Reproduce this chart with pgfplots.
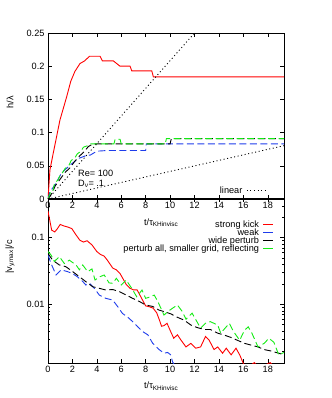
\documentclass[border=0pt]{standalone}
\usepackage{fontspec}
\setmainfont{Liberation Sans}
\usepackage{pgfplots}
\pgfplotsset{compat=1.18}
\definecolor{kred}{RGB}{255,0,0}
\definecolor{kblue}{RGB}{30,60,235}
\definecolor{kgreen}{RGB}{20,235,20}

\newcommand{\kfont}{\fontsize{9.2}{11}\selectfont}
\pgfplotsset{
  kh/.style={
    scale only axis, width=236bp,
    xmin=0, xmax=19.33,
    xtick={0,2,...,18},
    tick align=inside,
    major tick length=4bp, minor tick length=2bp,
    font=\kfont,
    /pgf/number format/assume math mode=true,
    axis line style={line width=0.7bp},
    every tick/.style={black, line width=0.5bp},
    xlabel={t/τ\textsubscript{KHinvisc}},
    legend cell align=right, legend plot pos=right,
  },
  dsh/.style={line width=0.9bp, dash pattern=on 7bp off 3.5bp},
}

\begin{document}
\begin{tikzpicture}
\path[use as bounding box] (0,0) rectangle (332bp,398bp);

% top panel: h/lambda
\begin{axis}[kh,
  at={(48bp,199bp)}, anchor=south west, height=166bp,
  ymin=0, ymax=0.25,
  ytick={0,0.05,0.1,0.15,0.2,0.25},
  yticklabels={0,0.05,0.1,0.15,0.2,0.25},
  xlabel style={at={(axis description cs:0.48,-0.142)}, anchor=center},
  ylabel={h/λ},
  ylabel style={at={(axis description cs:-0.161,0.584)}, anchor=center},
  legend style={at={(rel axis cs:0.93,0.05)}, anchor=east, draw=none, fill=none,
    inner sep=0pt, column sep=3bp, font=\kfont, nodes={inner sep=1bp}},
  legend image code/.code={\draw[#1] (0bp,0bp) -- (20bp,0bp);},
]
\addplot[kred, line width=0.9bp, forget plot] coordinates {
  (0,0) (0.16,0.044) (0.43,0.069) (0.98,0.119) (1.53,0.154) (1.86,0.177)
  (2.2,0.192) (2.62,0.204) (3.0,0.208) (3.4,0.215) (4.26,0.215) (4.45,0.208)
  (5.35,0.208) (5.9,0.200) (6.72,0.200) (6.86,0.193) (8.5,0.193) (8.63,0.184)
  (19.33,0.184)
};
\addplot[kblue, dsh, forget plot] coordinates {
  (0,0) (0.16,0.011) (0.57,0.021) (1.1,0.039) (1.8,0.051) (2.5,0.061)
  (3.2,0.066) (3.45,0.066) (4.0,0.072) (4.8,0.073) (8.0,0.073) (8.05,0.083)
  (19.33,0.083)
};
\addplot[black, dsh, forget plot] coordinates {
  (0,0) (0.3,0.008) (0.6,0.02) (1.0,0.03) (1.4,0.04) (1.8,0.047) (2.2,0.057)
  (2.6,0.065) (3.0,0.072) (3.3,0.079) (3.7,0.083) (10.0,0.083) (10.1,0.091)
  (19.33,0.091)
};
\addplot[kgreen, dsh, forget plot] coordinates {
  (0,0) (0.25,0.012) (0.4,0.012) (0.55,0.025) (0.8,0.028) (1.0,0.036)
  (1.2,0.04) (1.4,0.046) (1.7,0.05) (1.9,0.058) (2.2,0.062) (2.4,0.068)
  (2.7,0.072) (2.9,0.078) (3.2,0.08) (3.5,0.083) (5.4,0.083) (5.5,0.090)
  (5.9,0.090) (6.0,0.083) (9.6,0.083) (9.7,0.091) (19.33,0.091)
};
\addplot[black, line width=0.9bp, dash pattern=on 1bp off 2.6bp] coordinates {
  (0,0) (12,0.25)
};
\addlegendentry{linear}
\addplot[black, line width=0.9bp, dash pattern=on 1bp off 2.6bp, forget plot] coordinates {
  (0,0) (19.33,0.0803)
};
\node[anchor=west, inner sep=0pt] at (axis cs:2.46,0.039) {Re= 100};
\node[anchor=west, inner sep=0pt] at (axis cs:2.46,0.0226) {D\textsubscript{ν}= .1};
\end{axis}

% bottom panel: |v_y,max|/c
\begin{axis}[kh,
  at={(48bp,35bp)}, anchor=south west, height=165bp,
  ymode=log, ymin=0.00132, ymax=0.394,
  log ticks with fixed point,
  xlabel style={at={(axis description cs:0.48,-0.142)}, anchor=center},
  ylabel={|v\textsubscript{y,max}|/c},
  ylabel style={at={(axis description cs:-0.161,0.642)}, anchor=center},
  legend style={at={(rel axis cs:0.958,0.87)}, anchor=north east, draw=none, fill=none,
    inner sep=0pt, row sep=-2.2bp, column sep=3bp, font=\kfont, nodes={inner sep=1bp}},
  % two overlapping pieces, each starting with a dash, give a solid short sample
  legend image code/.code={\draw[#1] (0bp,0bp) -- (6.5bp,0bp);
    \draw[#1] (3.5bp,0bp) -- (10bp,0bp);},
]
\addplot[kred, line width=0.9bp] coordinates {
  (0,0.25) (0.3,0.13) (0.55,0.122) (0.75,0.135) (1.0,0.158) (1.3,0.15)
  (1.6,0.145) (1.95,0.137) (2.3,0.11) (2.6,0.092) (2.9,0.086) (3.2,0.09)
  (3.6,0.078) (4.0,0.062) (4.3,0.056) (4.6,0.053) (4.9,0.045) (5.3,0.035)
  (5.6,0.033) (5.9,0.029) (6.1,0.025) (6.4,0.02) (6.7,0.0175) (7.0,0.0165)
  (7.3,0.0165) (7.6,0.013) (8.0,0.0095) (8.3,0.0092) (8.6,0.0088) (8.9,0.0075)
  (9.1,0.006) (9.3,0.0047) (9.5,0.0048) (9.75,0.0052) (10.05,0.0039)
  (10.3,0.0031) (10.6,0.0035) (10.9,0.0029) (11.3,0.0023) (11.7,0.0026)
  (12.1,0.0022) (12.5,0.0023) (12.9,0.0033) (13.2,0.0029) (13.6,0.0021)
  (13.9,0.0023) (14.3,0.00185) (14.6,0.0022) (15.0,0.00175) (15.4,0.0022)
  (15.7,0.00175) (16.0,0.0013) (16.3,0.0011) (16.9,0.00134) (17.3,0.0011)
  (18.2,0.00134) (18.6,0.0011) (19.33,0.001)
};
\addlegendentry{strong kick}
\addplot[kblue, dsh] coordinates {
  (0,0.055) (0.25,0.041) (0.66,0.0276) (1.07,0.033) (1.6,0.031) (2.0,0.029)
  (2.4,0.026) (2.85,0.022) (3.1,0.0195) (3.4,0.0207) (3.8,0.0174) (4.2,0.0138)
  (4.75,0.0123) (5.3,0.0116) (5.7,0.0093) (6.1,0.0073) (6.5,0.0065)
  (6.94,0.0055) (7.35,0.0046) (7.76,0.0039) (8.17,0.0035) (8.58,0.0026)
  (9.1,0.0021) (9.5,0.00185) (9.8,0.0019) (10.05,0.00175) (10.2,0.00138)
  (10.4,0.0012)
};
\addlegendentry{weak}
\addplot[black, dsh] coordinates {
  (0,0.058) (0.38,0.046) (0.93,0.039) (1.47,0.0367) (2.02,0.031) (2.57,0.026)
  (3.1,0.0219) (3.66,0.0184) (4.2,0.0174) (4.75,0.0164) (5.3,0.0167)
  (5.85,0.0155) (6.4,0.0138) (6.94,0.0123) (7.5,0.011) (8.0,0.0098)
  (8.58,0.0093) (9.1,0.0082) (9.5,0.0078) (10.06,0.0072) (10.6,0.0064)
  (11.15,0.0058) (11.7,0.0049) (12.2,0.0045) (12.8,0.0042) (13.3,0.0042)
  (13.9,0.0037) (14.4,0.00348) (14.97,0.0032) (15.5,0.0029) (16.1,0.0026)
  (16.6,0.00246) (17.2,0.0023) (17.7,0.0021) (18.25,0.002) (18.9,0.00185)
  (19.33,0.00175)
};
\addlegendentry{wide perturb}
\addplot[kgreen, dsh] coordinates {
  (0,0.062) (0.25,0.055) (0.52,0.044) (0.93,0.052) (1.34,0.041) (1.75,0.046)
  (2.3,0.039) (2.57,0.033) (2.84,0.039) (3.25,0.031) (3.6,0.034) (3.85,0.0232)
  (4.26,0.026) (4.6,0.0276) (5.0,0.021) (5.3,0.0207) (5.6,0.0246) (6.0,0.0195)
  (6.4,0.0232) (6.86,0.0174) (7.27,0.013) (7.7,0.0164) (8.0,0.0123) (8.4,0.013)
  (8.7,0.0138) (9.0,0.011) (9.5,0.0069) (9.8,0.0078) (10.6,0.0098) (11.0,0.0078)
  (11.3,0.006) (11.8,0.0074) (12.5,0.0044) (12.9,0.0052) (13.3,0.0055)
  (13.9,0.0049) (14.15,0.0037) (14.85,0.0052) (15.2,0.0039) (15.7,0.0029)
  (16.1,0.0041) (16.4,0.0046) (16.7,0.0037) (17.2,0.0023) (17.7,0.0026)
  (18.1,0.0031) (18.5,0.0027) (18.9,0.00175) (19.33,0.0019)
};
\addlegendentry{perturb all, smaller grid, reflecting}
\end{axis}
\end{tikzpicture}
\end{document}
